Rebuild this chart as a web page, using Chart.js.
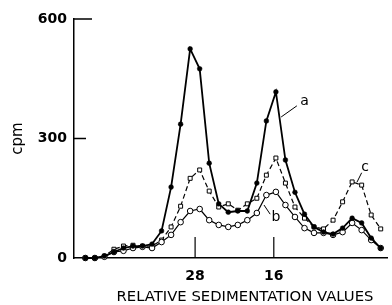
<!DOCTYPE html>
<html><head><meta charset="utf-8">
<script src="https://cdn.jsdelivr.net/npm/chart.js@4/dist/chart.umd.min.js"></script>
<style>html,body{margin:0;padding:0;background:#fff}</style>
</head><body>
<canvas id="c" width="392" height="305"></canvas>
<script>
// fraction index (position along gradient)
const fractions = [0,1,2,3,4,5,6,7,8,9,10,11,12,13,14,15,16,17,18,19,20,21,22,23,24,25,26,27,28,29,30,31];
// series a: filled circles, solid
const seriesA = [0,0,5,15,25,30,30,35,68,178,336,525,475,238,136,115,118,118,188,344,417,246,165,110,78,65,60,75,100,88,50,25];
// series b: open circles, solid
const seriesB = [0,0,3,15,18,25,28,25,40,58,90,118,123,95,83,78,83,95,113,158,166,133,103,75,63,63,58,65,88,70,45,25];
// series c: open squares, dashed
const seriesC = [0,0,5,22,30,32,30,30,45,78,130,200,221,168,128,136,120,136,150,208,251,188,128,100,78,73,95,141,191,183,108,73];
// tick positions / labels
const xTickPositions = [11.52, 19.78];
const xTickLabels = ['28', '16'];
const yTickValues = [0, 300, 600];
const seriesLabels = ['a', 'b', 'c'];

const FONT = '"DejaVu Sans", sans-serif';

const pts = arr => fractions.map((f, i) => ({x: f, y: arr[i]}));

const decor = {
  id: 'decor',
  afterDraw(chart) {
    const ctx = chart.ctx, xs = chart.scales.x, ys = chart.scales.y;
    const ca = chart.chartArea;
    ctx.save();
    ctx.strokeStyle = '#000';
    ctx.fillStyle = '#000';
    ctx.lineWidth = 1.3;
    // inside y ticks
    const y600 = ys.getPixelForValue(600), y300 = ys.getPixelForValue(300);
    ctx.beginPath();
    ctx.moveTo(ca.left, y600); ctx.lineTo(ca.left + 18, y600);
    ctx.moveTo(ca.left, y300); ctx.lineTo(ca.left + 12, y300);
    ctx.stroke();
    // inside x ticks
    ctx.lineWidth = 1.2;
    ctx.beginPath();
    xTickPositions.forEach(v => {
      const px = xs.getPixelForValue(v);
      ctx.moveTo(px, ca.bottom); ctx.lineTo(px, ca.bottom - 21);
    });
    ctx.stroke();
    // series labels with leader lines
    ctx.lineWidth = 1;
    ctx.font = '14px ' + FONT;
    ctx.textAlign = 'center'; ctx.textBaseline = 'middle';
    const P = (x, y) => [xs.getPixelForValue(x), ys.getPixelForValue(y)];
    const lab = [
      {t: seriesLabels[0], at: [23.0, 392], l0: [20.55, 354], l1: [22.2, 382]},
      {t: seriesLabels[1], at: [20.0, 102], l0: [18.75, 133], l1: [19.4, 110]},
      {t: seriesLabels[2], at: [29.35, 228], l0: [28.5, 190], l1: [29.0, 214]}
    ];
    lab.forEach(o => {
      const a = P(...o.l0), b = P(...o.l1), t = P(...o.at);
      ctx.beginPath(); ctx.moveTo(a[0], a[1]); ctx.lineTo(b[0], b[1]); ctx.stroke();
      ctx.fillText(o.t, t[0], t[1]);
    });
    // x axis title
    ctx.font = '14px ' + FONT;
    const title = 'RELATIVE SEDIMENTATION VALUES';
    const w = ctx.measureText(title).width;
    const target = 257;
    ctx.translate(245, 297);
    ctx.scale(target / w, 1);
    ctx.fillText(title, 0, 0);
    ctx.restore();
    // y axis title
    ctx.save();
    ctx.font = '15px ' + FONT;
    ctx.fillStyle = '#000';
    ctx.textAlign = 'center'; ctx.textBaseline = 'middle';
    ctx.translate(18, (ca.top + ca.bottom) / 2);
    ctx.rotate(-Math.PI / 2);
    ctx.fillText('cpm', 0, 0);
    ctx.restore();
  }
};

new Chart(document.getElementById('c'), {
  type: 'line',
  data: {
    datasets: [
      {label: seriesLabels[0], data: pts(seriesA), borderColor: '#000', backgroundColor: '#000',
       borderWidth: 1.8, pointRadius: 2.4, pointBackgroundColor: '#000', pointBorderColor: '#000',
       pointBorderWidth: 0.5, tension: 0, clip: false},
      {label: seriesLabels[1], data: pts(seriesB), borderColor: '#000', backgroundColor: '#fff',
       borderWidth: 1.2, pointRadius: 2.8, pointBackgroundColor: '#fff', pointBorderColor: '#000',
       pointBorderWidth: 1, tension: 0, clip: false},
      {label: seriesLabels[2], data: pts(seriesC), borderColor: '#000', backgroundColor: '#fff',
       borderWidth: 1.2, borderDash: [5, 3], pointStyle: 'rect', pointRadius: 2.8,
       pointBackgroundColor: '#fff', pointBorderColor: '#000', pointBorderWidth: 1, tension: 0, clip: false}
    ]
  },
  options: {
    responsive: false, animation: false, devicePixelRatio: 1,
    layout: {padding: {top: 19, right: 0, left: 0, bottom: 0}},
    plugins: {legend: {display: false}, tooltip: {enabled: false}},
    scales: {
      x: {
        type: 'linear', min: -1.19, max: 31.66,
        afterBuildTicks: s => { s.ticks = xTickPositions.map(v => ({value: v})); },
        afterFit: s => { s.height = 47; },
        ticks: {callback: (v, i) => xTickLabels[i], color: '#000', padding: 10,
                font: {family: FONT, size: 14, weight: 'bold'}, maxRotation: 0, autoSkip: false},
        grid: {display: false, drawTicks: false},
        border: {display: true, color: '#000', width: 1.5}
      },
      y: {
        min: 0, max: 600,
        afterBuildTicks: s => { s.ticks = yTickValues.map(v => ({value: v})); },
        afterFit: s => { s.width = 74; },
        ticks: {color: '#000', padding: 7, font: {family: FONT, size: 14, weight: 'bold'}},
        grid: {display: false, drawTicks: false},
        border: {display: true, color: '#000', width: 1.5}
      }
    }
  },
  plugins: [decor]
});
</script>
</body></html>
